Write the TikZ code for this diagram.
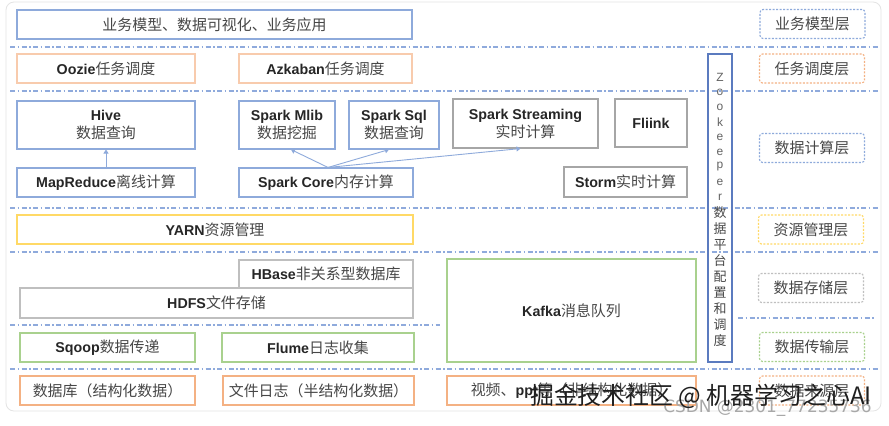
\documentclass[tikz,border=0pt]{standalone}
\usepackage{fontspec}
\setmainfont{Liberation Sans}
\newfontfamily\cjkfont{Noto Sans CJK SC}
\newfontfamily\dvsans{DejaVu Sans}
\usetikzlibrary{arrows.meta,calc}
\definecolor{cBlue}{HTML}{8EAADB}
\definecolor{cOrangeL}{HTML}{F8CBAD}
\definecolor{cOrange}{HTML}{F4B183}
\definecolor{cGray}{HTML}{A6A6A6}
\definecolor{cGrayL}{HTML}{BFBFBF}
\definecolor{cYellow}{HTML}{FFD966}
\definecolor{cGreen}{HTML}{A9D18E}
\definecolor{cSep}{HTML}{8FAADC}
\definecolor{cZk}{HTML}{5B7BBF}
\definecolor{cEN}{HTML}{262626}
\definecolor{cZH}{HTML}{474747}
\definecolor{cFrame}{HTML}{E4E4E4}
\definecolor{cWM}{HTML}{1F1F1F}
\definecolor{cWM2}{HTML}{A8A8A8}
\newcommand\myEN[1]{{\fontsize{14.3}{18}\selectfont\bfseries\color{cEN}#1}}
\newcommand\myZH[1]{{\cjkfont\fontsize{15}{18}\selectfont\color{cZH}#1}}
\begin{document}
\begin{tikzpicture}[x=1bp,y=-1bp,
  box/.style={draw=#1, line width=1.1bp, inner sep=0pt, align=center, font=\fontsize{15}{18}\selectfont},
  lbl/.style={draw=#1, line width=1.1bp, dash pattern=on 2bp off 1.5bp, rounded corners=3bp, inner sep=0pt, minimum width=105bp, minimum height=29bp},
  sepline/.style={draw=cSep, line width=1.5bp, dash pattern=on 5bp off 2.5bp on 1.5bp off 2.5bp},
  arr/.style={draw=cBlue, line width=0.9bp, -{Triangle[length=4bp,width=5bp]}},
  zklat/.style={font=\fontsize{12}{12}\selectfont, text=cZH!85, inner sep=0pt},
  zkhan/.style={font=\cjkfont\fontsize{13}{13}\selectfont, text=cZH, inner sep=0pt},
  wm/.style={font=\cjkfont\fontsize{24}{28}\selectfont, inner sep=0pt},
  wmtwo/.style={font=\dvsans\fontsize{17}{20}\selectfont, inner sep=0pt, anchor=base}
]
\useasboundingbox (0,0) rectangle (889,425);
\fill[white] (0,0) rectangle (889,425);
\draw[cFrame, line width=0.8bp, rounded corners=8bp] (6,2) rectangle (881,411);

% separators
\draw[sepline] (10,47) -- (880,47);
\draw[sepline] (10,91) -- (880,91);
\draw[sepline] (10,208) -- (880,208);
\draw[sepline] (10,252) -- (880,252);
\draw[sepline] (10,325) -- (440,325);
\draw[sepline] (738,318) -- (876,318);
\draw[sepline] (10,369) -- (880,369);

% boxes
\node[box=cBlue, minimum width=395bp, minimum height=29bp] (app) at (214.5,24.5) {\myZH{业务模型、数据可视化、业务应用}};
\node[box=cOrangeL, minimum width=178bp, minimum height=29bp] (oozie) at (106,68.5) {\myEN{Oozie}\myZH{任务调度}};
\node[box=cOrangeL, minimum width=173bp, minimum height=29bp] (azkaban) at (325.5,68.5) {\myEN{Azkaban}\myZH{任务调度}};
\node[box=cBlue, minimum width=178bp, minimum height=48bp] (hive) at (106,125) {\myEN{Hive}\\\myZH{数据查询}};
\node[box=cBlue, minimum width=96bp, minimum height=48bp] (mlib) at (287,125) {\myEN{Spark Mlib}\\\myZH{数据挖掘}};
\node[box=cBlue, minimum width=90bp, minimum height=48bp] (sql) at (394,125) {\myEN{Spark Sql}\\\myZH{数据查询}};
\node[box=cGray, minimum width=145bp, minimum height=49bp] (stream) at (525.5,123.5) {\myEN{Spark Streaming}\\\myZH{实时计算}};
\node[box=cGray, minimum width=72bp, minimum height=48bp] (flink) at (651,123) {\myEN{Fliink}};
\node[box=cBlue, minimum width=178bp, minimum height=29bp] (mr) at (106,182.5) {\myEN{MapReduce}\myZH{离线计算}};
\node[box=cBlue, minimum width=174bp, minimum height=29bp] (core) at (326,182.5) {\myEN{Spark Core}\myZH{内存计算}};
\node[box=cGray, minimum width=123bp, minimum height=30bp] (storm) at (625.5,182) {\myEN{Storm}\myZH{实时计算}};
\node[box=cYellow, minimum width=396bp, minimum height=29bp] (yarn) at (215,229.5) {\myEN{YARN}\myZH{资源管理}};
\node[box=cGrayL, minimum width=174bp, minimum height=28bp] (hbase) at (326,274) {\myEN{HBase}\myZH{非关系型数据库}};
\node[box=cGrayL, minimum width=393bp, minimum height=30bp] (hdfs) at (216.5,303) {\myEN{HDFS}\myZH{文件存储}};
\node[box=cGreen, minimum width=249bp, minimum height=103bp] (kafka) at (571.5,310.5) {\myEN{Kafka}\myZH{消息队列}};
\node[box=cGreen, minimum width=175bp, minimum height=29bp] (sqoop) at (107.5,347.5) {\myEN{Sqoop}\myZH{数据传递}};
\node[box=cGreen, minimum width=192bp, minimum height=29bp] (flume) at (318,347.5) {\myEN{Flume}\myZH{日志收集}};
\node[box=cOrange, minimum width=175bp, minimum height=29bp] (db) at (107.5,390.5) {\myZH{数据库（结构化数据）}};
\node[box=cOrange, minimum width=191bp, minimum height=29bp] (log) at (318.5,390.5) {\myZH{文件日志（半结构化数据）}};
\node[box=cOrange, minimum width=249bp, minimum height=29bp] (video) at (571.5,390.5) {\myZH{视频、}\myEN{ppt}\myZH{等（非结构化数据）}};

% zookeeper
\node[draw=cZk, line width=1.4bp, minimum width=24bp, minimum height=308bp, inner sep=0pt] (zk) at (720,208) {};
\foreach \c [count=\i from 0] in {Z,o,o,k,e,e,p,e,r}
  \node[zklat] (zkl\i) at (720,{77+15*\i}) {\c};
\foreach \c [count=\i from 0] in {数,据,平,台,配,置,和,调,度}
  \node[zkhan] (zkc\i) at (720,{213+16*\i}) {\c};

% arrows
\draw[arr] (mr.north) -- (hive.south);
\draw[arr] ([xshift=2bp]core.north) -- ([xshift=4bp]mlib.south);
\draw[arr] ([xshift=2bp]core.north) -- ([xshift=-5bp]sql.south);
\draw[arr] ([xshift=2bp]core.north) -- ([xshift=-5bp]stream.south);

% layer labels
\node[lbl=cBlue] (l1) at (812.5,24) {\myZH{业务模型层}};
\node[lbl=cOrange] (l2) at (812,68.5) {\myZH{任务调度层}};
\node[lbl=cBlue] (l3) at (812,148) {\myZH{数据计算层}};
\node[lbl=cYellow] (l4) at (811,229.5) {\myZH{资源管理层}};
\node[lbl=cGrayL] (l5) at (811,288) {\myZH{数据存储层}};
\node[lbl=cGreen] (l6) at (812,347) {\myZH{数据传输层}};
\node[lbl=cOrange] (l7) at (812,390.5) {\myZH{数据来源层}};

% watermarks
\node[wmtwo, text=cWM2] (wmb) at (767.5,412) {CSDN @2301\_77235736};
\node[wm, text=cWM] (wm) at (701,396.5) {掘金技术社区 @ 机器学习之心AI};
\end{tikzpicture}
\end{document}
